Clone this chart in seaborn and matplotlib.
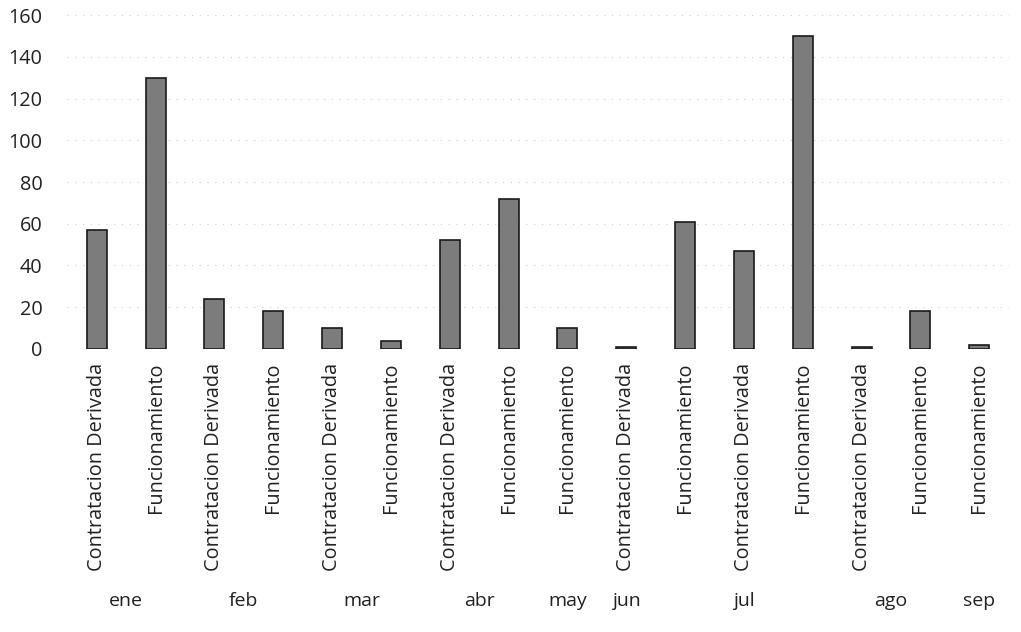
import matplotlib
matplotlib.use("Agg")
import matplotlib.pyplot as plt
import matplotlib.transforms as mtransforms
import seaborn as sns
import pandas as pd

# valores
meses = ["ene", "ene", "feb", "feb", "mar", "mar", "abr", "abr", "may",
         "jun", "jul", "jul", "jul", "ago", "ago", "sep"]
conceptos = ["Contratacion Derivada", "Funcionamiento",
             "Contratacion Derivada", "Funcionamiento",
             "Contratacion Derivada", "Funcionamiento",
             "Contratacion Derivada", "Funcionamiento",
             "Funcionamiento", "Contratacion Derivada",
             "Funcionamiento", "Contratacion Derivada", "Funcionamiento",
             "Contratacion Derivada", "Funcionamiento", "Funcionamiento"]
valores = [57, 130, 24, 18, 10, 4, 52, 72, 10, 1, 61, 47, 150, 1, 18, 2]
yticks = [0, 20, 40, 60, 80, 100, 120, 140, 160]

sns.set_theme(style="white")
plt.rcParams['font.family'] = ['Open Sans', 'DejaVu Sans']

df = pd.DataFrame({'pos': [str(i) for i in range(len(valores))],
                   'mes': meses, 'concepto': conceptos, 'valor': valores})

fig = plt.figure(figsize=(10.21, 6.32), dpi=100)
ax = fig.add_axes([0.066, 0.448, 0.922, 0.528])

sns.barplot(data=df, x='pos', y='valor', color='#7c7c7c', width=0.34,
            edgecolor='#1a1a1a', linewidth=1.2, saturation=1, ax=ax)

ax.set_ylim(0, 160)
ax.set_xlim(-0.5, len(valores) - 0.5)
ax.set_yticks(yticks)
ax.set_yticklabels([str(v) for v in yticks], fontsize=14.3, color='#222222')
ax.set_xticks(range(len(valores)))
ax.set_xticklabels(conceptos, rotation=90, fontsize=14.3, color='#222222')
ax.tick_params(axis='y', length=0, pad=18)
ax.tick_params(axis='x', length=0, pad=10)
ax.set_xlabel('')
ax.set_ylabel('')
sns.despine(ax=ax, left=True, bottom=True)
ax.yaxis.grid(True, linestyle=(0, (1, 6)), color='#cfcfcf', linewidth=0.8)
ax.set_axisbelow(True)

# etiquetas de mes bajo cada grupo
trans = mtransforms.blended_transform_factory(ax.transData, fig.transFigure)
grupos = df.groupby('mes', sort=False).apply(lambda g: g.index.to_series().mean())
for mes, centro in grupos.items():
    ax.text(centro, 1 - 601 / 632, mes, transform=trans, ha='center',
            va='center', fontsize=14, color='#222222')

fig.savefig('out.png', dpi=100)
